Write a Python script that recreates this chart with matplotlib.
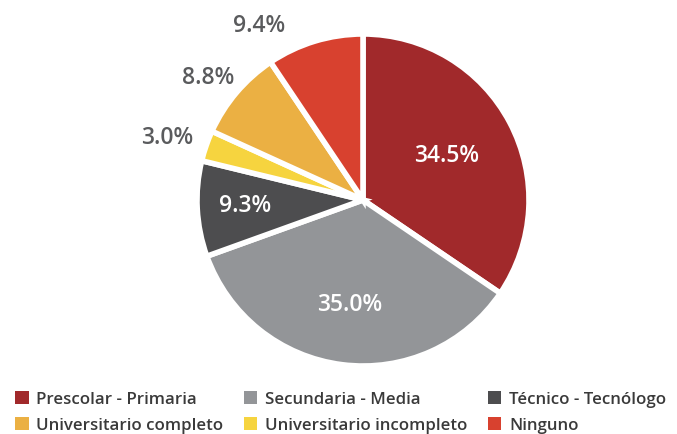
import numpy as np
import matplotlib.pyplot as plt
from matplotlib.patches import Patch

# ── Data ────────────────────────────────────────────────────────────────────
categories = ['Prescolar - Primaria', 'Secundaria - Media', 'Técnico - Tecnólogo',
              'Universitario incompleto', 'Universitario completo', 'Ninguno']
shares = [34.5, 35.0, 9.3, 3.0, 8.8, 9.4]
colors = ['#A1292B', '#939598', '#4D4D4F', '#F6D43F', '#EBB043', '#D8412F']

# label placement: radius fraction, angle nudge (deg), inside?
label_r = [0.57, 0.64, 0.71, 1.24, 1.19, 1.22]
label_nudge = [0, 0, 0, 1.5, 2.0, 14.0]
label_inside = [True, True, True, False, False, False]

LEGEND_ORDER = [0, 4, 1, 3, 2, 5]   # column-wise fill -> row layout
TEXT_GRAY = '#5A5B5D'

plt.rcParams['font.family'] = ['Open Sans', 'DejaVu Sans']

W, H = 677, 434
fig = plt.figure(figsize=(W / 100, H / 100), dpi=100)
ax = fig.add_axes([0, 0, 1, 1])

cx, cy, R = 363, H - 200, 166
wedges, _ = ax.pie(shares, colors=colors, startangle=90, counterclock=False,
                   center=(cx, cy), radius=R, frame=True,
                   wedgeprops=dict(edgecolor='white', linewidth=4))
ax.set_xlim(0, W)
ax.set_ylim(0, H)
ax.set_aspect('equal')
ax.axis('off')

for w, val, rf, nd, inside in zip(wedges, shares, label_r, label_nudge, label_inside):
    ang = np.deg2rad((w.theta1 + w.theta2) / 2 + nd)
    x = cx + rf * R * np.cos(ang)
    y = cy + rf * R * np.sin(ang)
    ax.text(x, y, f'{val:.1f}%', ha='center', va='center', fontsize=16.5,
            fontweight='semibold', color='white' if inside else TEXT_GRAY)

handles = [Patch(facecolor=colors[i], edgecolor='none') for i in LEGEND_ORDER]
labels = [categories[i] for i in LEGEND_ORDER]
fig.legend(handles, labels, ncol=3, loc='lower left', bbox_to_anchor=(0.0, -0.034),
           frameon=False, handlelength=0.8, handleheight=0.8,
           handletextpad=0.45, columnspacing=1.2, labelspacing=0.55,
           prop=dict(size=12.2, weight='semibold'), labelcolor='#3A3A3A')

fig.savefig('out.png', dpi=100)
